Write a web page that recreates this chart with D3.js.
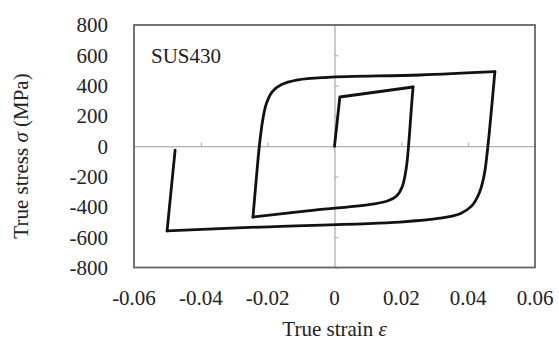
<!DOCTYPE html>
<html>
<head>
	<title>SUS430 hysteresis</title>
	<script src="https://d3js.org/d3.v7.min.js" charset="utf-8"></script>
	<style>
		body { margin: 0; background: #fff; }
	</style>
</head>
<body>
	<svg width="559" height="352" font-family="'Liberation Serif', 'DejaVu Serif', serif"></svg>
	<script>
		// tick values
		var xTicks = [-0.06, -0.04, -0.02, 0, 0.02, 0.04, 0.06];
		var yTicks = [-800, -600, -400, -200, 0, 200, 400, 600, 800];

		// loading branches, [strain, stress MPa]
		var load0   = [[0, 0], [0.0016, 325], [0.0235, 391]];
		var unload1 = [[0.0235, 391], [0.0229, 220], [0.0223, 41], [0.0215, -140], [0.0203, -265], [0.0185, -330], [0.0160, -360], [0.0120, -380], [-0.006, -422], [-0.0244, -467]];
		var reload1 = [[-0.0244, -467], [-0.0235, -240], [-0.0225, 0], [-0.0215, 170], [-0.0204, 280], [-0.0186, 360], [-0.0160, 405], [-0.0110, 438], [-0.002, 455], [0.0256, 470], [0.048, 492]];
		var unload2 = [[0.048, 492], [0.0470, 250], [0.0459, 0], [0.0448, -190], [0.0433, -310], [0.0410, -395], [0.0376, -445], [0.0316, -475], [0.0196, -500], [-0.0223, -533], [-0.0501, -559]];
		var reload2 = [[-0.0501, -559], [-0.0477, -25]];

		const plotL = 134, plotR = 535, plotT = 25, plotB = 267.5;

		var svg = d3.select('svg');

		const x = d3.scaleLinear().domain([-0.06, 0.06]).range([plotL, plotR]);
		const y = d3.scaleLinear().domain([-800, 800]).range([plotB, plotT]);

		// zero lines with small ticks
		svg.append('g')
			.attr('transform', `translate(0, ${y(0)})`)
			.call(d3.axisTop(x).tickValues(xTicks.filter(d => d !== 0 && Math.abs(d) < 0.06)).tickSize(4).tickFormat(''))
			.call(g => g.select('.domain').attr('stroke', '#999'))
			.call(g => g.selectAll('.tick line').attr('stroke', '#aaa'));

		svg.append('g')
			.attr('transform', `translate(${x(0)}, 0)`)
			.call(d3.axisRight(y).tickValues(yTicks.filter(d => d !== 0 && Math.abs(d) < 800)).tickSize(4).tickFormat(''))
			.call(g => g.select('.domain').attr('stroke', '#999'))
			.call(g => g.selectAll('.tick line').attr('stroke', '#aaa'));

		// frame
		svg.append('rect')
			.attr('x', plotL).attr('y', plotT)
			.attr('width', plotR - plotL).attr('height', plotB - plotT)
			.attr('fill', 'none').attr('stroke', '#666').attr('stroke-width', 1.8);

		// tick labels
		svg.selectAll('.ylab')
			.data(yTicks)
			.enter()
			.append('text')
			.attr('x', 108)
			.attr('y', d => y(d))
			.attr('dy', '0.35em')
			.attr('text-anchor', 'end')
			.attr('fill', '#222')
			.style('font-size', '21px')
			.text(d => d);

		svg.selectAll('.xlab')
			.data(xTicks)
			.enter()
			.append('text')
			.attr('x', d => x(d))
			.attr('y', 305)
			.attr('text-anchor', 'middle')
			.attr('fill', '#222')
			.style('font-size', '21px')
			.text(d => d === 0 ? '0' : d.toFixed(2));

		// axis titles
		var xt = svg.append('text')
			.attr('x', x(0)).attr('y', 336)
			.attr('text-anchor', 'middle')
			.attr('fill', '#222')
			.style('font-size', '21px');
		xt.append('tspan').text('True strain ');
		xt.append('tspan').style('font-style', 'italic').text('ε');

		var yt = svg.append('text')
			.attr('transform', 'translate(28, 156) rotate(-90)')
			.attr('text-anchor', 'middle')
			.attr('fill', '#222')
			.style('font-size', '21px');
		yt.append('tspan').text('True stress ');
		yt.append('tspan').style('font-style', 'italic').text('σ');
		yt.append('tspan').text(' (MPa)');

		svg.append('text')
			.attr('x', 151).attr('y', 63)
			.attr('fill', '#222')
			.style('font-size', '21px')
			.text('SUS430');

		// curves: straight elastic legs, smooth plastic bends
		var straight = d3.line()
			.x(d => x(d[0]))
			.y(d => y(d[1]));
		var smooth = d3.line()
			.x(d => x(d[0]))
			.y(d => y(d[1]))
			.curve(d3.curveCatmullRom.alpha(0.5));

		svg.selectAll('.branch')
			.data([[load0, straight], [unload1, smooth], [reload1, smooth], [unload2, smooth], [reload2, straight]])
			.enter()
			.append('path')
			.attr('d', d => d[1](d[0]))
			.attr('fill', 'none')
			.attr('stroke', '#111')
			.attr('stroke-width', 2.8)
			.attr('stroke-linejoin', 'round')
			.attr('stroke-linecap', 'round');
	</script>
</body>
</html>
